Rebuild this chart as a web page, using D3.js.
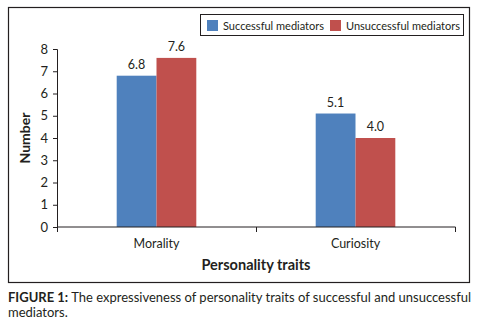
<!DOCTYPE html>
<html><head><meta charset="utf-8">
<script src="https://cdn.jsdelivr.net/npm/d3@7"></script>
<style>
body{margin:0;background:#fff;}
svg{display:block;font-family:Lato, "Open Sans", sans-serif;}
</style></head>
<body><svg id="c" width="482" height="321"></svg>
<script>
const categories = ["Morality", "Curiosity"];
const seriesNames = ["Successful mediators", "Unsuccessful mediators"];
const successful = [6.8, 5.1];
const unsuccessful = [7.6, 4.0];
const yTicks = [0,1,2,3,4,5,6,7,8];
const colors = ["#4F81BD", "#C0504D"];

const svg = d3.select("#c");
const values = [successful, unsuccessful];

// outer frame
svg.append("rect").attr("x",8.5).attr("y",7.5).attr("width",461).attr("height",275)
  .attr("fill","none").attr("stroke","#231f20").attr("stroke-width",1.2);

const y = d3.scaleLinear().domain([0,8]).range([227,49]);
const x0 = d3.scaleBand().domain(categories).range([57,455]).paddingInner(0).paddingOuter(0);
const x1 = d3.scaleBand().domain(seriesNames).range([0,x0.bandwidth()]).paddingInner(0).paddingOuter(1.5);

// bars
categories.forEach((c,i)=>{
  seriesNames.forEach((s,j)=>{
    const v = values[j][i];
    svg.append("rect").attr("x",x0(c)+x1(s)).attr("y",y(v))
      .attr("width",x1.bandwidth()).attr("height",y(0)-y(v)).attr("fill",colors[j]);
    svg.append("text").attr("x",x0(c)+x1(s)+x1.bandwidth()/2).attr("y",y(v)-7)
      .attr("text-anchor","middle").attr("font-size",12.5).attr("fill","#231f20").text(v.toFixed(1));
  });
});

// y axis
const ya = svg.append("g").attr("transform","translate(57,0)")
  .call(d3.axisLeft(y).tickValues(yTicks).tickSize(4).tickPadding(5).tickFormat(d3.format("d")));
ya.selectAll("text").attr("font-size",13).attr("fill","#231f20").attr("font-family","Lato, sans-serif");
ya.selectAll("line,path").attr("stroke","#231f20");

// x axis
const xa = svg.append("g").attr("transform","translate(0,227)")
  .call(d3.axisBottom(x0).tickSize(0).tickPadding(12));
xa.selectAll("text").attr("font-size",12.5).attr("fill","#231f20").attr("font-family","Lato, sans-serif");
xa.selectAll("path").attr("stroke","#231f20").attr("d","M57.5,0V0H455.5V0");
[57,256,455].forEach(t=>{
  xa.append("line").attr("x1",t+0.5).attr("x2",t+0.5).attr("y1",0).attr("y2",5).attr("stroke","#231f20");
});

// axis titles
svg.append("text").attr("transform","translate(30,138) rotate(-90)").attr("text-anchor","middle")
  .attr("font-size",14).attr("font-weight","bold").attr("fill","#231f20").text("Number");
svg.append("text").attr("x",256).attr("y",270).attr("text-anchor","middle")
  .attr("font-size",14.5).attr("font-weight","bold").attr("fill","#231f20").text("Personality traits");

// legend
svg.append("rect").attr("x",200.5).attr("y",14.5).attr("width",263).attr("height",21)
  .attr("fill","#fff").attr("stroke","#231f20").attr("stroke-width",1);
const lx = [207, 330];
seriesNames.forEach((s,j)=>{
  svg.append("rect").attr("x",lx[j]).attr("y",20).attr("width",11).attr("height",11).attr("fill",colors[j]);
  svg.append("text").attr("x",lx[j]+16).attr("y",29.5).attr("font-size",11).attr("fill","#231f20").text(s);
});

// caption
const cap = svg.append("text").attr("x",8).attr("y",302).attr("font-size",13).attr("fill","#231f20");
cap.append("tspan").attr("font-weight","bold").text("FIGURE 1:");
cap.append("tspan").text(" The expressiveness of personality traits of successful and unsuccessful");
svg.append("text").attr("x",8).attr("y",317).attr("font-size",13).attr("fill","#231f20").text("mediators.");
</script></body></html>
